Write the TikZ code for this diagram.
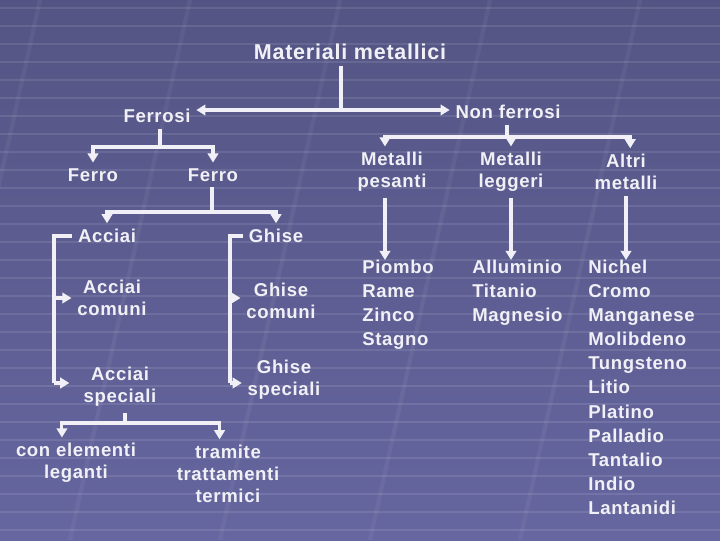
\documentclass[tikz,border=0pt]{standalone}
\usepackage{fontspec}
\setmainfont[LetterSpace=3.5]{Liberation Sans}
\usetikzlibrary{arrows.meta}
\definecolor{slidetop}{RGB}{84,84,132}
\definecolor{slidebot}{RGB}{102,102,160}
\definecolor{ink}{RGB}{240,240,246}

\begin{document}
\begin{tikzpicture}[
  x=0.025cm, y=-0.025cm,
  lbl/.style={text=ink, align=center, inner sep=4pt, font=\bfseries\fontsize{13.2}{15.6}\selectfont},
  big/.style={lbl, font=\bfseries\fontsize{15.3}{18}\selectfont},
  lst/.style={lbl, align=left, anchor=north west, inner sep=0pt, font=\bfseries\fontsize{13.2}{17.1}\selectfont},
  ln/.style={draw=ink, line width=2.2pt},
  arr/.style={ln, -{Triangle[length=6.5pt,width=7.5pt]}}
]
\useasboundingbox (0,0) rectangle (720,540);
% background
\shade[top color=slidetop, bottom color=slidebot] (0,0) rectangle (720,540);
\foreach \yy in {8,26,...,540}
  \draw[white, opacity=0.1, line width=1.4pt] (0,\yy) -- (720,\yy);
\foreach \xx in {40,190,340,490,640}
  \draw[white, opacity=0.05, line width=3pt] (\xx,0) -- (\xx-120,540);

% nodes
\node[big] (mat) at (350,52) {Materiali metallici};
\node[lbl] (ferrosi) at (157,116) {Ferrosi};
\node[lbl] (nonferrosi) at (508,112) {Non ferrosi};
\node[lbl] (ferro1) at (93,175) {Ferro};
\node[lbl] (ferro2) at (213,175) {Ferro};
\node[lbl] (acciai) at (107,236) {Acciai};
\node[lbl] (ghise) at (276,236) {Ghise};
\node[lbl] (accom) at (112,298) {Acciai\\comuni};
\node[lbl] (ghcom) at (281,301) {Ghise\\comuni};
\node[lbl] (accsp) at (120,387) {Acciai\\speciali};
\node[lbl] (ghsp) at (284,380) {Ghise\\speciali};
\node[lbl] (conel) at (76,463) {con elementi\\leganti};
\node[lbl] (tram) at (228,474) {tramite\\trattamenti\\termici};
\node[lbl] (mpes) at (392,172) {Metalli\\pesanti};
\node[lbl] (mleg) at (511,172) {Metalli\\leggeri};
\node[lbl] (altri) at (626,172) {Altri\\metalli};
\node[lst] (plist) at (362,260) {Piombo\\Rame\\Zinco\\Stagno};
\node[lst] (llist) at (472,260) {Alluminio\\Titanio\\Magnesio};
\node[lst] (alist) at (588,260) {Nichel\\Cromo\\Manganese\\Molibdeno\\Tungsteno\\Litio\\Platino\\Palladio\\Tantalio\\Indio\\Lantanidi};

% branch points
\coordinate (hub) at (341,110);
\coordinate (fsb) at (160,147);
\coordinate (f2b) at (212,212);
\coordinate (ab) at (54,298);
\coordinate (ac) at (54,383);
\coordinate (gb) at (230,298);
\coordinate (gc) at (230,383);
\coordinate (asb) at (125,423);
\coordinate (nb) at (507,137);

% connectors
\draw[ln] (mat.south -| hub) -- (hub);
\draw[arr] (hub) -- (ferrosi.east |- hub);
\draw[arr] (hub) -- (nonferrosi.west |- hub);

\draw[ln] (ferrosi.south -| fsb) -- (fsb);
\draw[arr] (fsb) -| (ferro1);
\draw[arr] (fsb) -| (ferro2);

\draw[ln] (ferro2.south -| f2b) -- (f2b);
\draw[arr] (f2b) -| (acciai);
\draw[arr] (f2b) -| (ghise);

\draw[ln] (acciai.west) -| (ac);
\draw[arr] (ab) -- (ab -| accom.west);
\draw[arr] (ac) -- ([xshift=-6pt]ac -| accsp.west);

\draw[ln] (ghise.west) -| (gc);
\draw[arr] (gb) -- (gb -| ghcom.west);
\draw[arr] (gc) -- (gc -| ghsp.west);

\draw[ln] (accsp.south -| asb) -- (asb);
\draw[arr] (asb) -| ([xshift=-10pt]conel.north);
\draw[arr] (asb) -| ([xshift=-6pt]tram.north);

\draw[ln] (nonferrosi.south -| nb) -- (nb);
\draw[arr] (nb) -| ([xshift=-5pt]mpes.north);
\draw[arr] (nb) -| (mleg);
\draw[arr] (nb) -| ([xshift=3pt]altri.north);

\draw[arr] ([xshift=-5pt]mpes.south) -- ([xshift=-5pt]mpes.south |- plist.north);
\draw[arr] (mleg.south) -- (mleg.south |- llist.north);
\draw[arr] (altri.south) -- (altri.south |- alist.north);
\end{tikzpicture}
\end{document}
